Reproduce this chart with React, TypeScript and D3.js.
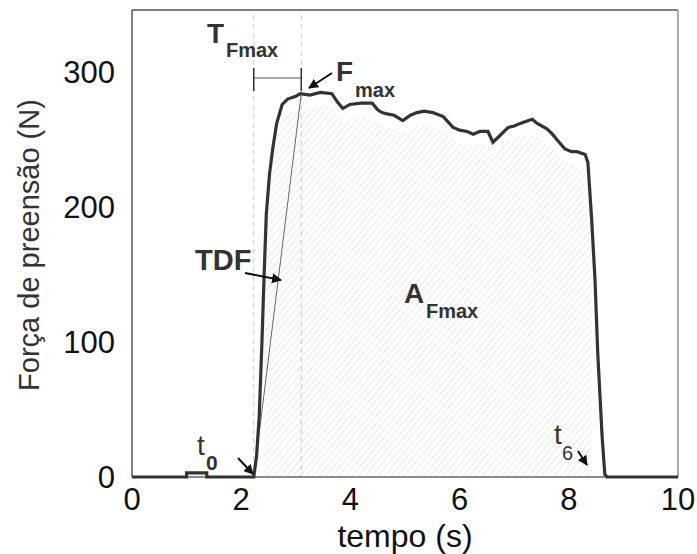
import React from "react";
import * as d3 from "d3";

const timeS = [0, 1.0, 1.0, 1.37, 1.37, 2.23, 2.28, 2.33, 2.38, 2.42, 2.46, 2.52, 2.58, 2.65, 2.75, 2.85, 3.0, 3.08, 3.26, 3.45, 3.66, 3.76, 3.86, 3.99, 4.2, 4.4, 4.5, 4.58, 4.67, 4.8, 4.96, 5.1, 5.22, 5.35, 5.51, 5.7, 5.88, 6.0, 6.14, 6.25, 6.37, 6.52, 6.61, 6.74, 6.89, 7.0, 7.11, 7.25, 7.33, 7.42, 7.6, 7.7, 7.78, 7.93, 8.05, 8.15, 8.3, 8.35, 8.42, 8.48, 8.53, 8.61, 8.66, 8.7, 10];
const forceN = [0, 0, 3, 3, 0, 0, 15, 45, 100, 150, 195, 225, 244, 262, 276, 280, 282, 284, 283, 285, 284, 278, 273, 276, 277, 277, 272, 270, 269, 268, 264, 268, 270, 271, 270, 267, 259, 257, 256, 254, 256, 256, 248, 253, 259, 260, 262, 264, 265, 262, 258, 254, 250, 243, 241, 241, 239, 233, 190, 146, 92, 30, 2, 0, 0];

const xTicks = [0, 2, 4, 6, 8, 10];
const yTicks = [0, 100, 200, 300];

const W = 697, H = 554;
const left = 132, right = 678, top = 10, bottom = 477;
const font = "'Liberation Sans', Arial, sans-serif";

export default function App() {
  const x = d3.scaleLinear().domain([0, 10]).range([left, right]);
  const y = d3.scaleLinear().domain([0, 346]).range([bottom, top]);
  const pts: [number, number][] = timeS.map((t, i) => [t, forceN[i]]);
  const line = d3.line<[number, number]>().x(d => x(d[0])).y(d => y(d[1]));
  const areaPts = pts.filter(d => d[0] >= 2.4 && d[0] <= 8.45);
  const area = d3.area<[number, number]>()
    .x(d => x(d[0]))
    .y0(y(0))
    .y1(d => y(Math.max(0, d[1] - 10)));
  const t0 = 2.23, tF = 3.1;
  return (
    <svg width={W} height={H} style={{ display: "block", position: "absolute", left: 0, top: 0 }} fontFamily={font}>
      <defs>
        <pattern id="hatch" width="5" height="5" patternUnits="userSpaceOnUse" patternTransform="rotate(40)">
          <line x1="0" y1="0" x2="0" y2="5" stroke="#d4d4d4" strokeWidth="1" />
        </pattern>
        <marker id="arr" viewBox="0 0 10 10" refX="9" refY="5" markerWidth="5" markerHeight="5" orient="auto">
          <path d="M0,0 L10,5 L0,10 z" fill="#111" />
        </marker>
      </defs>
      <rect x={0} y={0} width={W} height={H} fill="#fff" />
      <path d={area(areaPts) || ""} fill="url(#hatch)" />
      {/* dashed guides */}
      <line x1={x(t0)} x2={x(t0)} y1={top + 5} y2={bottom} stroke="#ccc" strokeDasharray="5,4" strokeWidth={1} />
      <line x1={x(tF)} x2={x(tF)} y1={top + 5} y2={bottom} stroke="#ccc" strokeDasharray="5,4" strokeWidth={1} />
      {/* frame */}
      <line x1={left} x2={right} y1={top} y2={top} stroke="#555" strokeWidth={1.5} />
      <line x1={left} x2={left} y1={top} y2={bottom} stroke="#555" strokeWidth={1.5} />
      <line x1={right} x2={right} y1={top} y2={bottom} stroke="#aaa" strokeWidth={2} />
      <line x1={left} x2={right} y1={bottom} y2={bottom} stroke="#666" strokeWidth={1.5} />
      {/* TDF line */}
      <line x1={x(t0)} y1={y(0)} x2={x(tF)} y2={y(284)} stroke="#666" strokeWidth={1} />
      {/* curve */}
      <path d={line(pts) || ""} fill="none" stroke="#333" strokeWidth={3.2} strokeLinejoin="miter" />
      {/* TFmax bracket */}
      <line x1={x(t0)} x2={x(tF)} y1={78} y2={78} stroke="#555" strokeWidth={1.2} />
      <line x1={x(t0)} x2={x(t0)} y1={68} y2={91} stroke="#333" strokeWidth={1.5} />
      <line x1={x(tF)} x2={x(tF)} y1={68} y2={91} stroke="#333" strokeWidth={1.5} />
      {/* ticks labels */}
      {xTicks.map(t => (
        <text key={"x" + t} x={x(t)} y={510} textAnchor="middle" fontSize={31} fill="#111">{t}</text>
      ))}
      {yTicks.map(t => (
        <text key={"y" + t} x={115} y={y(t) + 11} textAnchor="end" fontSize={31} fill="#111">{t}</text>
      ))}
      <text x={405} y={547} textAnchor="middle" fontSize={32} fill="#111">tempo (s)</text>
      <text transform={`translate(39,245) rotate(-90)`} textAnchor="middle" fontSize={29} fill="#333">Força de preensão (N)</text>
      {/* annotations */}
      <text x={207} y={43} fontSize={28} fontWeight="bold" fill="#333">T</text>
      <text x={226} y={57} fontSize={20} fontWeight="bold" fill="#333">Fmax</text>
      <text x={336} y={81} fontSize={28} fontWeight="bold" fill="#333">F</text>
      <text x={355} y={97} fontSize={20} fontWeight="bold" fill="#333">max</text>
      <line x1={332} y1={73} x2={309} y2={88} stroke="#111" strokeWidth={2} markerEnd="url(#arr)" />
      <text x={195} y={270} fontSize={29} fontWeight="bold" fill="#333">TDF</text>
      <line x1={245} y1={273} x2={281} y2={280} stroke="#111" strokeWidth={2} markerEnd="url(#arr)" />
      <text x={404} y={303} fontSize={28} fontWeight="bold" fill="#333">A</text>
      <text x={426} y={318} fontSize={20} fontWeight="bold" fill="#333">Fmax</text>
      <text x={197} y={455} fontSize={28} fill="#333">t</text>
      <text x={206} y={470} fontSize={21} fontWeight="bold" fill="#333">0</text>
      <line x1={238} y1={458} x2={253} y2={474} stroke="#111" strokeWidth={2} markerEnd="url(#arr)" />
      <text x={554} y={444} fontSize={28} fill="#333">t</text>
      <text x={562} y={460} fontSize={20} fill="#333">6</text>
      <line x1={578} y1={451} x2={587} y2={465} stroke="#111" strokeWidth={2} markerEnd="url(#arr)" />
    </svg>
  );
}
